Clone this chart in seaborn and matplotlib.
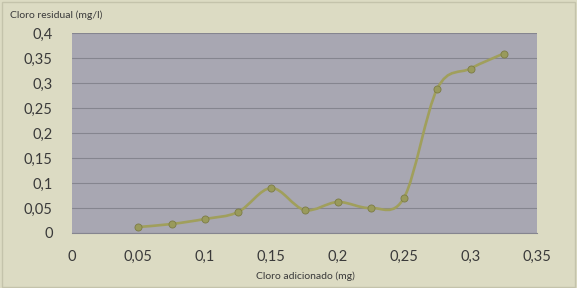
import numpy as np
import pandas as pd
import matplotlib
matplotlib.use("Agg")
import matplotlib.pyplot as plt
from matplotlib.path import Path
from matplotlib.patches import PathPatch, Rectangle
from matplotlib.ticker import FuncFormatter, MultipleLocator
import seaborn as sns

# ── Data ──────────────────────────────────────────────────────────────────
cloro_adicionado = [0.05, 0.075, 0.1, 0.125, 0.15, 0.175, 0.2, 0.225, 0.25, 0.275, 0.3, 0.325]
cloro_residual = [0.012, 0.018, 0.028, 0.042, 0.090, 0.046, 0.062, 0.050, 0.071, 0.289, 0.329, 0.359]

x_label = "Cloro adicionado (mg)"
y_label = "Cloro residual (mg/l)"

df = pd.DataFrame({"x": cloro_adicionado, "y": cloro_residual})

# ── Style ─────────────────────────────────────────────────────────────────
sns.set_theme(style="white")
plt.rcParams["font.family"] = ["Lato", "DejaVu Sans"]

BG = "#dcdbc3"
PLOT_BG = "#a8a7b2"
GRID = "#85858f"
LINE = "#a09f5c"
MARKER = "#999a5c"
MARKER_EDGE = "#7c7c45"
TEXT = "#3a3a3a"

fig = plt.figure(figsize=(5.77, 2.88), dpi=100, facecolor=BG)
# thin frame around the chart area, like the Excel chart border
fig.patches.append(Rectangle((2 / 577, 1 / 288), 573 / 577, 285 / 288, transform=fig.transFigure,
                             facecolor="none", edgecolor="#c4c3ab", lw=1.0))
ax = fig.add_axes([72 / 577, 1 - 233 / 288, (537 - 72) / 577, (233 - 33) / 288])
ax.set_facecolor(PLOT_BG)

# Excel-style smoothed line: cubic Bezier segments through the data points
pts = df[["x", "y"]].to_numpy()
n = len(pts)
verts = [pts[0]]
codes = [Path.MOVETO]
for i in range(n - 1):
    p0 = pts[i - 1] if i > 0 else pts[i]
    p1, p2 = pts[i], pts[i + 1]
    p3 = pts[i + 2] if i + 2 < n else pts[i + 1]
    verts += [p1 + (p2 - p0) / 6, p2 - (p3 - p1) / 6, p2]
    codes += [Path.CURVE4] * 3
ax.add_patch(PathPatch(Path(verts, codes), facecolor="none", edgecolor=LINE, lw=1.9, zorder=3))

sns.scatterplot(data=df, x="x", y="y", ax=ax, s=26, color=MARKER,
                edgecolor=MARKER_EDGE, linewidth=0.6, zorder=4, legend=False)

ax.set_xlim(0, 0.35)
ax.set_ylim(0, 0.4)
ax.xaxis.set_major_locator(MultipleLocator(0.05))
ax.yaxis.set_major_locator(MultipleLocator(0.05))
fmt = FuncFormatter(lambda v, p: f"{v:.2f}".rstrip("0").rstrip(".").replace(".", ","))
ax.xaxis.set_major_formatter(fmt)
ax.yaxis.set_major_formatter(fmt)

ax.grid(axis="y", color=GRID, lw=0.8)
ax.grid(axis="x", visible=False)
ax.set_axisbelow(True)
for side in ["top", "right", "left"]:
    ax.spines[side].set_visible(False)
ax.spines["bottom"].set_color(GRID)
ax.spines["bottom"].set_linewidth(0.8)

ax.tick_params(axis="both", which="major", labelsize=10.5, colors=GRID, labelcolor=TEXT,
               length=5, width=0.8, direction="out")
ax.tick_params(axis="x", pad=7)
ax.tick_params(axis="y", pad=9, length=5)
ax.set_xlabel("")
ax.set_ylabel("")

fig.text(10 / 577, 1 - 15 / 288, y_label, fontsize=7.5, color=TEXT, ha="left", va="center")
fig.text(305 / 577, 1 - 276 / 288, x_label, fontsize=7.5, color=TEXT, ha="center", va="center")

fig.savefig("out.png", dpi=100, facecolor=BG)
